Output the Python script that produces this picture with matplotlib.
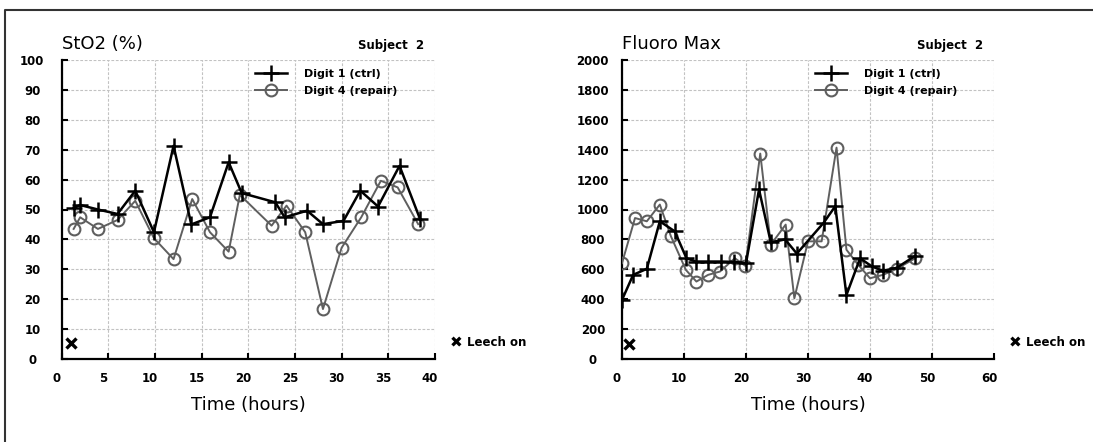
import matplotlib
matplotlib.use("Agg")
import matplotlib.pyplot as plt
from matplotlib.lines import Line2D
from matplotlib.transforms import ScaledTranslation

# StO2 (%) - subject 2
sto2_t1 = [1.3, 2.0, 3.9, 6.0, 7.9, 9.9, 12.0, 13.9, 15.9, 17.9, 19.3, 22.9, 23.9, 26.3, 28.0, 30.2, 32.0, 33.9, 36.2, 38.4]
sto2_d1 = [50.5, 51.5, 50.0, 48.5, 56.3, 42.4, 71.3, 45.0, 47.4, 65.8, 55.5, 52.4, 47.4, 49.6, 45.1, 46.2, 56.3, 51.0, 64.6, 46.8]
sto2_t4 = [1.3, 2.0, 3.9, 6.0, 7.9, 9.9, 12.0, 14.0, 15.9, 17.9, 19.1, 22.5, 24.1, 26.1, 28.0, 30.0, 32.1, 34.2, 36.0, 38.2]
sto2_d4 = [43.5, 47.4, 43.5, 46.5, 52.9, 40.4, 33.4, 53.5, 42.4, 35.9, 54.9, 44.6, 51.3, 42.4, 16.7, 37.2, 47.4, 59.6, 57.4, 45.1]

# Fluoro Max - subject 2
fl_t1 = [0.0, 1.8, 4.0, 6.1, 8.5, 10.4, 11.9, 13.9, 15.9, 18.0, 20.0, 22.1, 24.0, 26.3, 28.2, 32.5, 34.4, 36.2, 38.4, 40.3, 42.1, 44.3, 47.3]
fl_d1 = [395, 563, 603, 921, 854, 674, 652, 652, 652, 650, 640, 1134, 780, 800, 705, 910, 1022, 428, 674, 619, 590, 610, 690]
fl_t4 = [0.0, 2.1, 4.0, 6.1, 7.9, 10.3, 12.0, 13.9, 15.8, 18.2, 19.9, 22.3, 24.0, 26.4, 27.8, 30.0, 32.2, 34.6, 36.2, 38.1, 40.0, 42.1, 44.3, 47.3]
fl_d4 = [641, 943, 921, 1033, 820, 596, 518, 563, 585, 674, 623, 1374, 765, 899, 406, 787, 787, 1414, 731, 630, 540, 563, 603, 674]

leech_t = [1.0, 1.2]
leech_y = [5.5, 103]

panels = [
    dict(title="StO2 (%)", t1=sto2_t1, d1=sto2_d1, t4=sto2_t4, d4=sto2_d4,
         xmax=40, xstep=5, ymax=100, ystep=10, leech=(leech_t[0], leech_y[0]),
         rect=[61.5 / 1093, 83 / 442, 373.5 / 1093, 299 / 442]),
    dict(title="Fluoro Max", t1=fl_t1, d1=fl_d1, t4=fl_t4, d4=fl_d4,
         xmax=60, xstep=10, ymax=2000, ystep=200, leech=(leech_t[1], leech_y[1]),
         rect=[622 / 1093, 83 / 442, 372 / 1093, 299 / 442]),
]

fig = plt.figure(figsize=(10.93, 4.42), dpi=100)
gray = "#5f5f5f"

for p in panels:
    ax = fig.add_axes(p["rect"])
    ax.plot(p["t4"], p["d4"], color=gray, lw=1.4, marker="o", ms=8.5,
            mfc="none", mec=gray, mew=1.5, label="Digit 4 (repair)", zorder=3)
    ax.plot(p["t1"], p["d1"], color="black", lw=1.8, marker="+", ms=11,
            mew=1.8, label="Digit 1 (ctrl)", zorder=4)
    ax.plot([p["leech"][0]], [p["leech"][1]], marker="x", ms=7, mew=2.4,
            color="black", ls="none")

    ax.set_xlim(0, p["xmax"])
    ax.set_ylim(0, p["ymax"])
    ax.set_xticks(range(0, p["xmax"] + 1, p["xstep"]))
    ax.set_yticks(range(0, p["ymax"] + 1, p["ystep"]))
    ax.grid(True, color="#c2c2c2", ls=(0, (2.5, 1.5)), lw=0.8)
    ax.set_axisbelow(True)
    for s in ["top", "right"]:
        ax.spines[s].set_visible(False)
    for s in ["left", "bottom"]:
        ax.spines[s].set_linewidth(1.6)
    ax.tick_params(direction="in", length=4, width=1.5, labelsize=8.5)
    for lab in ax.get_xticklabels() + ax.get_yticklabels():
        lab.set_fontweight("bold")
    for lab in ax.get_yticklabels():
        lab.set_ha("center")
    ax.tick_params(axis="y", pad=21)
    ax.tick_params(axis="x", pad=9)
    shift = ScaledTranslation(-5 / 100, 0, fig.dpi_scale_trans)
    for lab in ax.get_xticklabels():
        lab.set_transform(lab.get_transform() + shift)

    ax.set_xlabel("Time (hours)", fontsize=13, labelpad=8)
    ax.text(0, 1.052, p["title"], transform=ax.transAxes, fontsize=13,
            va="center", ha="left")
    ax.text(0.972, 1.048, "Subject  2", transform=ax.transAxes, fontsize=8.5,
            fontweight="bold", va="center", ha="right")
    ax.text(1.04, 0.054, "✖", transform=ax.transAxes, fontsize=11,
            va="center", ha="left")
    ax.text(1.085, 0.054, "Leech on", transform=ax.transAxes, fontsize=8.5,
            fontweight="bold", va="center", ha="left")

    h, l = ax.get_legend_handles_labels()
    ax.legend(h[::-1], l[::-1], loc="upper left", bbox_to_anchor=(0.518, 0.97),
              frameon=False, borderpad=0, borderaxespad=0, handlelength=2.9,
              handletextpad=1.5, labelspacing=0.6,
              prop=dict(size=8, weight="bold"))

# outer frame (top and left edges)
fig.add_artist(Line2D([5 / 1093, 5 / 1093, 1.0], [0.0, 432 / 442, 432 / 442],
                      transform=fig.transFigure, color="#333333", lw=1.5))

fig.savefig("out.png", dpi=100)
